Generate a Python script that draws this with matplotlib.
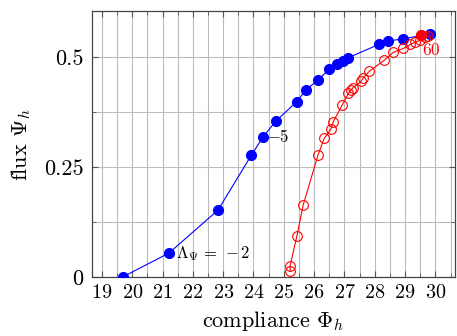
import matplotlib
matplotlib.use("Agg")
import matplotlib.pyplot as plt
from matplotlib.ticker import MultipleLocator, FixedLocator

plt.rcParams['font.family'] = 'serif'
plt.rcParams['font.serif'] = ['cmr10']
plt.rcParams['mathtext.fontset'] = 'cm'
plt.rcParams['axes.formatter.use_mathtext'] = True

# branch with filled markers
phi_blue = [19.69, 21.21, 22.83, 23.93, 24.32, 24.73, 25.43, 25.73, 26.13,
            26.50, 26.75, 26.94, 27.13, 28.13, 28.45, 28.92, 29.83]
psi_blue = [0.0, 0.054, 0.152, 0.277, 0.319, 0.354, 0.399, 0.426, 0.448,
            0.473, 0.484, 0.4925, 0.499, 0.529, 0.537, 0.5416, 0.553]

# branch with open markers
phi_red = [25.21, 25.21, 25.43, 25.64, 26.13, 26.33, 26.55, 26.63, 26.93,
           27.13, 27.21, 27.29, 27.55, 27.62, 27.82, 28.31, 28.61, 28.94,
           29.17, 29.33, 29.50, 29.66, 29.77]
psi_red = [0.0136, 0.0258, 0.093, 0.164, 0.278, 0.315, 0.336, 0.353, 0.392,
           0.4175, 0.425, 0.431, 0.445, 0.453, 0.468, 0.493, 0.511, 0.52,
           0.529, 0.534, 0.539, 0.545, 0.548]
phi_end, psi_end = 29.52, 0.5515

fig = plt.figure(figsize=(4.57, 3.36), dpi=100)
ax = fig.add_axes([0.201, 0.176, 0.795, 0.791])

ax.plot(phi_blue, psi_blue, '-o', color='blue', lw=0.8, ms=7, zorder=3)
ax.plot(phi_red + [phi_end], psi_red + [psi_end], '-o', color='red', lw=0.8,
        ms=7, mfc='none', mew=0.8, zorder=3)
ax.plot([phi_end], [psi_end], 'o', color='red', ms=7, zorder=4)

ax.text(21.45, psi_blue[1], r'$\Lambda_\Psi\,=\,-2$', fontsize=12,
        va='center', ha='left')
ax.text(24.45, psi_blue[4], r'$-5$', fontsize=12, va='center', ha='left')
ax.text(29.56, 0.517, r'$60$', fontsize=12.5, color='red', va='center', ha='left')

ax.set_xlim(18.67, 30.65)
ax.set_ylim(0, 0.605)
ax.xaxis.set_major_locator(MultipleLocator(1))
ax.xaxis.set_minor_locator(MultipleLocator(0.5))
ax.yaxis.set_major_locator(FixedLocator([0, 0.25, 0.5]))
ax.yaxis.set_minor_locator(MultipleLocator(0.125))
ax.set_yticklabels(['0', '0.25', '0.5'])

ax.grid(True, which='both', color='#bcbcbc', lw=0.8)
ax.set_axisbelow(True)
ax.tick_params(which='both', direction='in', top=True, right=True,
               color='#555555')
ax.tick_params(axis='x', labelsize=14.5, pad=5)
ax.tick_params(axis='y', labelsize=16, pad=6)
ax.tick_params(which='major', length=4)
ax.tick_params(which='minor', length=3)
for s in ax.spines.values():
    s.set_color('#444444')
    s.set_linewidth(0.9)

ax.set_xlabel(r'compliance $\Phi_h$', fontsize=16, labelpad=5)
ax.set_ylabel(r'flux $\Psi_h$', fontsize=16, labelpad=8)

fig.savefig('out.png', dpi=100)
